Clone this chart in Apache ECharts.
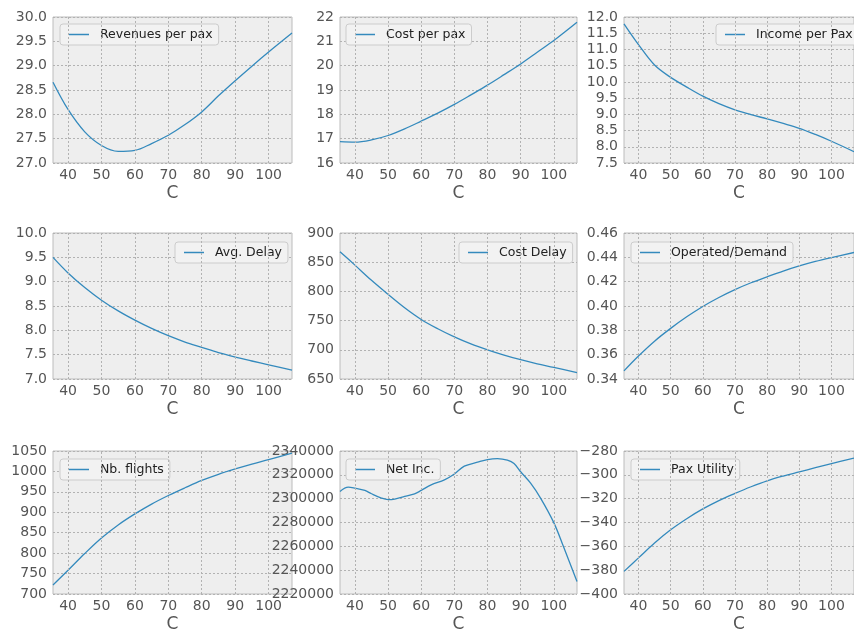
<!DOCTYPE html>
<html>
<head>
<meta charset="utf-8">
<script src="https://cdn.jsdelivr.net/npm/echarts@6/dist/echarts.min.js"></script>
<style>
html,body{margin:0;padding:0;background:#fff;}
#chart{width:854px;height:634px;}
</style>
</head>
<body>
<div id="chart"></div>
<script>
// ---- Data ----
const C = [35.5, 40, 45, 50, 55, 60, 65, 70, 75, 80, 85, 90, 95, 100, 107];
const revenuesPerPax = [28.66, 28.10, 27.64, 27.36, 27.24, 27.26, 27.40, 27.57, 27.79, 28.05, 28.38, 28.69, 28.99, 29.28, 29.67];
const costPerPax = [16.88, 16.86, 16.95, 17.13, 17.40, 17.72, 18.05, 18.41, 18.80, 19.20, 19.63, 20.07, 20.55, 21.03, 21.78];
const incomePerPax = [11.79, 11.15, 10.52, 10.14, 9.84, 9.56, 9.33, 9.14, 8.99, 8.86, 8.72, 8.57, 8.38, 8.17, 7.85];
const avgDelay = [9.50, 9.18, 8.88, 8.62, 8.40, 8.21, 8.04, 7.89, 7.76, 7.65, 7.54, 7.45, 7.37, 7.29, 7.18];
const costDelay = [868, 845, 819, 795, 772, 752, 736, 722, 710, 700, 691, 683, 676, 670, 661];
const operatedDemand = [0.3467, 0.3589, 0.3711, 0.3816, 0.3911, 0.3996, 0.4070, 0.4135, 0.4191, 0.4240, 0.4287, 0.4329, 0.4366, 0.4398, 0.4440];
const nbFlights = [722, 758, 799, 837, 869, 896, 920, 941, 960, 978, 993, 1006, 1018, 1029, 1045];
const paxUtility = [-381, -369.7, -357.2, -346.1, -336.8, -328.6, -321.6, -315.6, -310.0, -305.0, -301.0, -297.5, -294.0, -290.6, -286.0];
const netC = [35.5, 38, 40, 43, 45, 48, 50, 52, 55, 58, 60, 63, 67, 70, 73, 77, 80, 83, 86, 88, 90, 93, 96, 100, 103, 107];
const netInc = [2306070, 2309650, 2308800, 2306900, 2304100, 2300500, 2299200, 2299700, 2301900, 2304100, 2306900, 2311600, 2315700, 2320700, 2327300, 2330600, 2332800, 2333600, 2332300, 2329500, 2322600, 2313000, 2300500, 2279900, 2259200, 2230500];
const xTicks = [40, 50, 60, 70, 80, 90, 100];

const panels = [
  {name: 'Revenues per pax', x: C, y: revenuesPerPax, min: 27, max: 30, interval: 0.5, dec: 1},
  {name: 'Cost per pax', x: C, y: costPerPax, min: 16, max: 22, interval: 1, dec: 0},
  {name: 'Income per Pax', x: C, y: incomePerPax, min: 7.5, max: 12, interval: 0.5, dec: 1},
  {name: 'Avg. Delay', x: C, y: avgDelay, min: 7, max: 10, interval: 0.5, dec: 1},
  {name: 'Cost Delay', x: C, y: costDelay, min: 650, max: 900, interval: 50, dec: 0},
  {name: 'Operated/Demand', x: C, y: operatedDemand, min: 0.34, max: 0.46, interval: 0.02, dec: 2},
  {name: 'Nb. flights', x: C, y: nbFlights, min: 700, max: 1050, interval: 50, dec: 0},
  {name: 'Net Inc.', x: netC, y: netInc, min: 2220000, max: 2340000, interval: 20000, dec: 0},
  {name: 'Pax Utility', x: C, y: paxUtility, min: -400, max: -280, interval: 20, dec: 0}
];

// ---- Layout ----
const colLeft = [53, 340, 624];
const colWidth = [239, 237, 239];
const rowTop = [17, 233, 451];
const rowHeight = [146, 146, 145];
const legendPos = [
  {left: 60, top: 24}, {left: 346, top: 24}, {left: 716, top: 24},
  {left: 175, top: 242}, {left: 459, top: 242}, {left: 631, top: 242},
  {left: 60, top: 459}, {left: 346, top: 459}, {left: 631, top: 459}
];

const FONT = 'DejaVu Sans';
const LINE = '#348ABD';
const grids = [], xAxes = [], yAxes = [], series = [], legends = [];

panels.forEach((p, i) => {
  const r = Math.floor(i / 3), c = i % 3;
  grids.push({
    left: colLeft[c], top: rowTop[r], width: colWidth[c], height: rowHeight[r],
    show: true, backgroundColor: '#eeeeee', borderColor: '#bcbcbc', borderWidth: 1
  });
  xAxes.push({
    type: 'value', gridIndex: i, min: 35.5, max: 107,
    name: 'C', nameLocation: 'middle', nameGap: 22,
    nameTextStyle: {fontFamily: FONT, fontSize: 17, color: '#555555'},
    axisLine: {show: false}, axisTick: {show: false, customValues: xTicks},
    axisLabel: {customValues: xTicks, fontFamily: FONT, fontSize: 14, color: '#555555', margin: 5},
    splitLine: {show: false}
  });
  yAxes.push({
    type: 'value', gridIndex: i, min: p.min, max: p.max, interval: p.interval,
    axisLine: {show: false}, axisTick: {show: false},
    axisLabel: {
      fontFamily: FONT, fontSize: 14, color: '#555555', margin: 6,
      formatter: (v) => v.toFixed(p.dec).replace('-', '\u2212')
    },
    splitLine: {show: true, lineStyle: {color: '#b2b2b2', width: 1, type: [2, 2]}}
  });
  series.push({
    name: p.name, type: 'line', xAxisIndex: i, yAxisIndex: i,
    data: p.x.map((xv, k) => [xv, p.y[k]]),
    smooth: 0.35, symbol: 'none',
    lineStyle: {color: LINE, width: 1.3}, itemStyle: {color: LINE},
    markLine: {
      silent: true, symbol: 'none', label: {show: false}, animation: false,
      lineStyle: {color: '#b2b2b2', width: 1, type: [2, 2]},
      data: xTicks.map(t => ({xAxis: t}))
    },
    z: 3
  });
  legends.push({
    data: [{name: p.name, icon: 'path://M0,0L40,0L40,3L0,3Z'}],
    left: legendPos[i].left, top: legendPos[i].top,
    itemWidth: 20, itemHeight: 14, padding: [4, 6, 4, 9],
    backgroundColor: '#f2f2f2', borderColor: '#cccccc', borderWidth: 1, borderRadius: 3,
    selectedMode: false,
    itemStyle: {color: LINE},
    textStyle: {fontFamily: FONT, fontSize: 12.5, color: '#222222', padding: [0, 0, 0, 6]}
  });
});

const chart = echarts.init(document.getElementById('chart'), null, {renderer: 'canvas'});
chart.setOption({
  animation: false,
  grid: grids, xAxis: xAxes, yAxis: yAxes, series: series, legend: legends
});
</script>
</body>
</html>
